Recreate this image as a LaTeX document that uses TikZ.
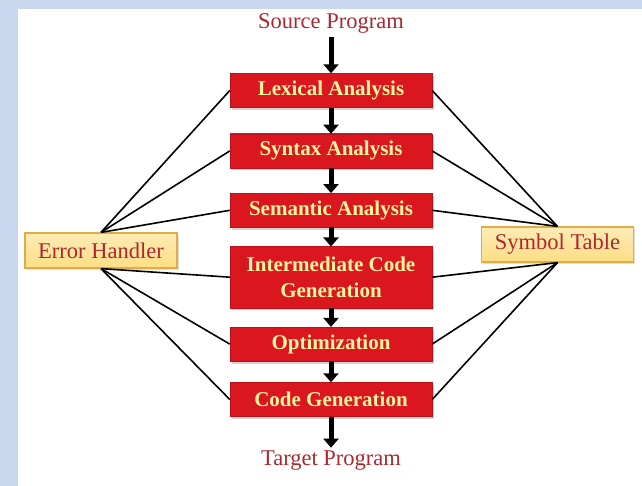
\documentclass[tikz,border=0pt]{standalone}
\usepackage{fontspec}
\setmainfont{Liberation Serif}
\usetikzlibrary{arrows.meta,
                positioning,
                shadows
                }
\definecolor{pageblue}{RGB}{200,214,238}
\definecolor{boxred}{RGB}{248,52,56}
\definecolor{boxdark}{RGB}{218,22,30}
\definecolor{phasetext}{RGB}{255,244,160}
\definecolor{labelred}{RGB}{170,40,48}
\definecolor{tabfill}{RGB}{252,222,132}
\definecolor{tabedge}{RGB}{222,172,72}

\begin{document}
\begin{tikzpicture}[x=1pt, y=-1pt,
    node distance = 26pt and 50pt,
 phase/.style = {minimum width=202pt, minimum height=34pt, inner sep=2pt,
                 top color=boxdark, middle color=boxred, bottom color=boxdark,
                 draw=boxdark!85!black, line width=0.4pt,
                 drop shadow={opacity=0.35, shadow xshift=1.5pt, shadow yshift=-2.5pt},
                 text=phasetext, align=center,
                 font=\fontsize{21}{26}\selectfont\bfseries},
 sidebox/.style = {minimum width=152pt, minimum height=35pt, inner sep=2pt,
                 top color=tabfill!60!white, bottom color=tabfill,
                 draw=tabedge, line width=1.2pt,
                 drop shadow={opacity=0.25, shadow xshift=1.5pt, shadow yshift=-2pt},
                 text=labelred, font=\fontsize{22.5}{24}\selectfont},
 io/.style    = {text=labelred, font=\fontsize{22.5}{24}\selectfont},
 flow/.style  = {line width=5pt, -{Triangle[length=9pt, width=15pt]}},
 link/.style  = {line width=1.6pt}
                    ]
\fill[pageblue] (0,0) rectangle (642,486);
\fill[white] (18,9) rectangle (642,486);
\useasboundingbox (0,0) rectangle (642,486);

% compiler phases
\node (lex)  [phase] at (331,90.5) {Lexical Analysis};
\node (syn)  [phase, below=26pt of lex] {Syntax Analysis};
\node (sem)  [phase, below=25pt of syn] {Semantic Analysis};
\node (icg)  [phase, minimum height=61pt, below=19pt of sem] {Intermediate Code\\ Generation};
\node (opt)  [phase, below=19pt of icg] {Optimization};
\node (cgen) [phase, below=21pt of opt] {Code Generation};

\node (src) [io, above=36pt of lex]  {Source Program};
\node (trg) [io, below=31pt of cgen] {Target Program};

\node (err) [sidebox] at (101,250.5) {Error Handler};
\node (sym) [sidebox] at (557.5,244.5) {Symbol Table};

% links to the side tables
\foreach \p in {lex,syn,sem}
  {
  \draw[link] (err.north) -- (\p.west);
  \draw[link] (sym.north) -- (\p.east);
  }
\foreach \p in {icg,opt,cgen}
  {
  \draw[link] (err.south) -- (\p.west);
  \draw[link] (sym.south) -- (\p.east);
  }

\draw[flow] (src) -- (lex);
\draw[flow] (lex) -- (syn);
\draw[flow] (syn) -- (sem);
\draw[flow] (sem) -- (icg);
\draw[flow] (icg) -- (opt);
\draw[flow] (opt) -- (cgen);
\draw[flow] (cgen) -- (trg);
\end{tikzpicture}
\end{document}
